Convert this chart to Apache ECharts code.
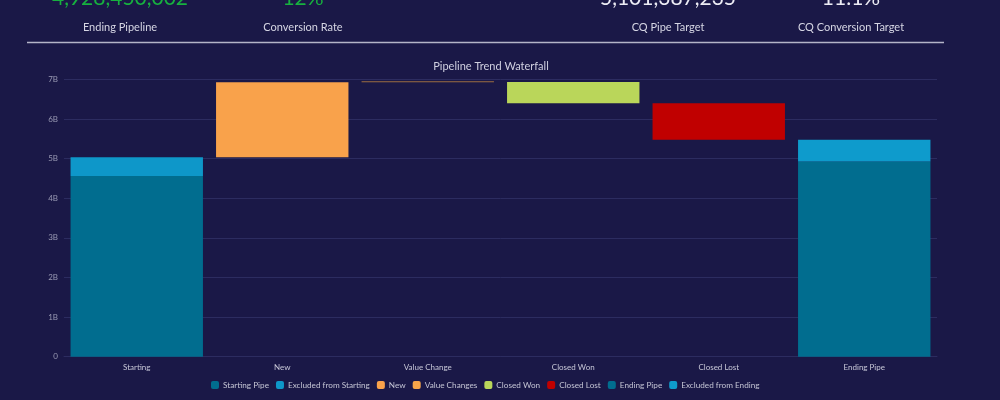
<!DOCTYPE html>
<html>
<head>
<meta charset="utf-8">
<script src="https://cdn.jsdelivr.net/npm/echarts@6/dist/echarts.min.js"></script>
<style>
html,body{margin:0;padding:0;background:#1a1847;}
#c{width:1000px;height:400px;}
</style>
</head>
<body>
<div id="c"></div>
<script>
const categories = ['Starting', 'New', 'Value Change', 'Closed Won', 'Closed Lost', 'Ending Pipe'];
const seriesNames = ['Starting Pipe', 'Excluded from Starting', 'New', 'Value Changes', 'Closed Won', 'Closed Lost', 'Ending Pipe', 'Excluded from Ending'];
const startingPipe = 4563000000;
const excludedFromStarting = 472000000;
const newPipe = 1894000000;
const valueChanges = 5000000;
const closedWon = -535000000;
const closedLost = -919000000;
const endingPipe = 4928450002;
const excludedFromEnding = 552000000;
const kpiLabels = ['Ending Pipeline', 'Conversion Rate', 'CQ Pipe Target', 'CQ Conversion Target'];
const kpiValues = ['4,928,450,002', '12%', '5,101,387,235', '11.1%'];
const yTicks = [0, 1e9, 2e9, 3e9, 4e9, 5e9, 6e9, 7e9];

const colors = ['#016d8f', '#0e97c9', '#f9a24b', '#f7a54a', '#bad65a', '#c00000', '#016d8f', '#0e9bcc'];
const kpiX = [120, 303, 668, 851];
const kpiColors = ['#17b13f', '#17b13f', '#ececf4', '#ececf4'];

// waterfall layout built from the values
const startTotal = startingPipe + excludedFromStarting;
const afterNew = startTotal + newPipe;
const afterVC = afterNew + valueChanges;
const afterWon = afterVC + closedWon;
const afterLost = afterWon + closedLost;
const base = [0, startTotal, Math.min(afterNew, afterVC), Math.min(afterVC, afterWon), Math.min(afterWon, afterLost), 0];

function only(idx, v) { return categories.map((_, i) => i === idx ? v : '-'); }

const seriesData = [
  only(0, startingPipe),
  only(0, excludedFromStarting),
  only(1, newPipe),
  only(2, Math.abs(valueChanges)),
  only(3, Math.abs(closedWon)),
  only(4, Math.abs(closedLost)),
  only(5, endingPipe),
  only(5, excludedFromEnding)
];

const series = [{
  name: 'base', type: 'bar', stack: 'w', data: base,
  itemStyle: { color: 'transparent' }, silent: true, barCategoryGap: '9%'
}].concat(seriesNames.map((n, i) => ({
  name: n, type: 'bar', stack: 'w', data: seriesData[i],
  barMinHeight: i === 3 ? 1 : 0,
  itemStyle: { color: i === 3 ? '#9c6c40' : colors[i] },
  barCategoryGap: '9%'
})));

const graphics = [];
kpiLabels.forEach((l, i) => {
  graphics.push({ type: 'text', x: kpiX[i], y: 27,
    style: { text: l, fill: '#d6d6e4', font: '11px Lato', align: 'center', verticalAlign: 'middle' } });
  graphics.push({ type: 'text', x: kpiX[i], y: -2,
    style: { text: kpiValues[i], fill: kpiColors[i], font: '21px Lato', align: 'center', verticalAlign: 'middle' } });
});
graphics.push({ type: 'line', shape: { x1: 27, y1: 42.5, x2: 944, y2: 42.5 }, style: { stroke: '#b4b4c8', lineWidth: 1.5 } });

const chart = echarts.init(document.getElementById('c'), null, { renderer: 'canvas' });
chart.setOption({
  backgroundColor: '#1a1847',
  animation: false,
  color: colors,
  title: {
    text: 'Pipeline Trend Waterfall', left: 486, top: 56, textAlign: 'center',
    textStyle: { color: '#d0d0e0', fontSize: 11, fontWeight: 'normal', fontFamily: 'Lato' }
  },
  graphic: graphics,
  legend: {
    data: seriesNames.map((n, i) => ({ name: n, itemStyle: { color: colors[i] } })),
    bottom: 6, left: 206, itemWidth: 8, itemHeight: 8, itemGap: 7,
    icon: 'roundRect',
    textStyle: { color: '#c4c4d4', fontSize: 8.2, fontFamily: 'Lato', padding: [0, 0, 0, -1] }
  },
  grid: { left: 64, right: 63, top: 79.5, bottom: 43.3 },
  xAxis: {
    type: 'category', data: categories,
    axisLine: { lineStyle: { color: '#2c2c60' } }, axisTick: { show: false },
    axisLabel: { color: '#c8c8d8', fontSize: 8, fontFamily: 'Lato', margin: 7 }
  },
  yAxis: {
    type: 'value', min: 0, max: 7e9, interval: 1e9,
    axisLabel: {
      color: '#9a9ab4', fontSize: 8, fontFamily: 'Lato', margin: 6,
      formatter: v => yTicks.indexOf(v) >= 0 ? (v === 0 ? '0' : (v / 1e9) + 'B') : ''
    },
    splitLine: { lineStyle: { color: '#2c2c60', width: 1 } },
    axisLine: { show: false }, axisTick: { show: false }
  },
  series: series
});
</script>
</body>
</html>
